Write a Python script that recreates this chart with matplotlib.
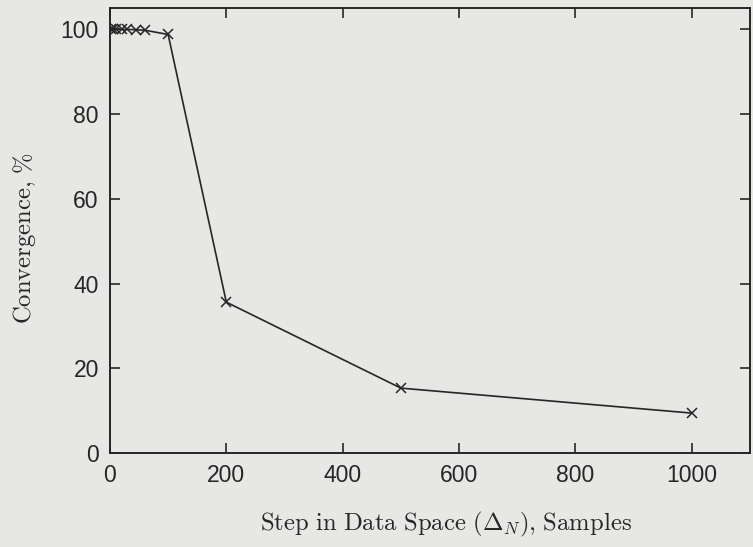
import matplotlib.pyplot as plt

# data
step = [2, 5, 10, 20, 30, 45, 60, 100, 200, 500, 1000]
convergence = [100, 100, 100, 100, 100, 99.9, 99.8, 98.8, 35.6, 15.3, 9.4]

x_ticks = [0, 200, 400, 600, 800, 1000]
y_ticks = [0, 20, 40, 60, 80, 100]

# appearance
BG_COLOR = '#e7e7e5'
INK = '#262626'

plt.rcParams['mathtext.fontset'] = 'cm'
plt.rcParams['font.family'] = ['Liberation Sans', 'DejaVu Sans']

fig = plt.figure(figsize=(7.53, 5.47), dpi=100, facecolor=BG_COLOR)
ax = fig.add_axes([0.146, 0.172, 0.85, 0.813])
ax.set_facecolor(BG_COLOR)

ax.plot(step, convergence, color=INK, linewidth=1.2,
        marker='x', markersize=7, markeredgewidth=1.1)

ax.set_xlim(0, 1100)
ax.set_ylim(0, 105)
ax.set_xticks(x_ticks)
ax.set_yticks(y_ticks)

ax.tick_params(direction='in', length=7, width=1.2, color=INK,
               top=True, right=True, labelsize=16.5, labelcolor=INK, pad=8)
for spine in ax.spines.values():
    spine.set_color(INK)
    spine.set_linewidth(1.4)

ax.set_xlabel(r'$\mathrm{Step\ in\ Data\ Space\ (}\Delta_N\mathrm{){,}\ Samples}$',
              fontsize=17.8, color=INK)
ax.xaxis.set_label_coords(0.525, -0.128)
ax.set_ylabel(r'$\mathrm{Convergence{,}\ \%}$', fontsize=17.8, color=INK)
ax.yaxis.set_label_coords(-0.1125, 0.483)

fig.savefig('out.png', dpi=100, facecolor=BG_COLOR)
